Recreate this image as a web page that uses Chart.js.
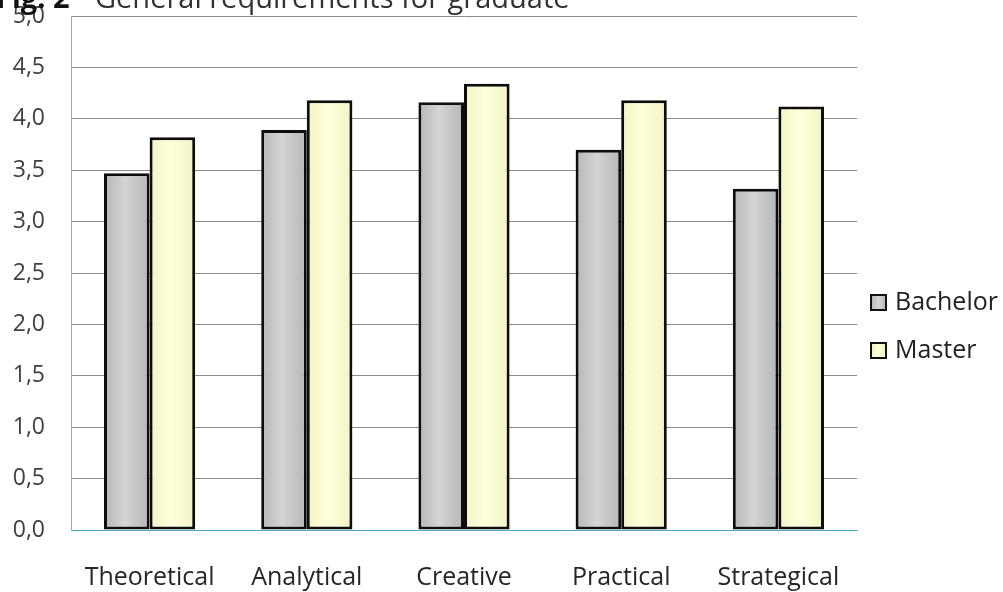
<!DOCTYPE html>
<html>
<head>
<meta charset="utf-8">
<script src="https://cdn.jsdelivr.net/npm/chart.js@4"></script>
<style>
  html, body { margin: 0; padding: 0; background: #fff; }
  #wrap { width: 1003px; height: 592px; position: relative; }
</style>
</head>
<body>
<div id="wrap"><canvas id="chartCanvas"></canvas></div>
<script>
const categories = ['Theoretical', 'Analytical', 'Creative', 'Practical', 'Strategical'];
const bachelorValues = [3.47, 3.89, 4.16, 3.70, 3.32];
const masterValues = [3.82, 4.18, 4.34, 4.18, 4.12];
const seriesNames = ['Bachelor', 'Master'];
const titleText = ['Fig. 2', 'General requirements for graduate'];

const FONT = "'Open Sans', 'DejaVu Sans', sans-serif";
const GROUP = 0.58;

// horizontal shading across each bar, lighter in the middle
function barFill(ctx, light, dark) {
    const chart = ctx.chart;
    const xs = chart.scales && chart.scales.x;
    if (!chart.chartArea || !xs || ctx.type !== 'data') return light;
    const half = xs.width / categories.length * GROUP / 2;
    const center = xs.getPixelForValue(ctx.dataIndex);
    const left = ctx.datasetIndex === 0 ? center - half : center;
    const g = chart.ctx.createLinearGradient(left, 0, left + half, 0);
    g.addColorStop(0, dark);
    g.addColorStop(0.45, light);
    g.addColorStop(1, dark);
    return g;
}

const fills = [
    { light: '#d4d4d4', dark: '#b6b6b6' },
    { light: '#ffffdc', dark: '#f3f3c4' }
];

// title sits mostly above the top edge of the canvas
const titlePlugin = {
    id: 'topTitle',
    afterDraw(chart) {
        const c = chart.ctx;
        c.save();
        c.textBaseline = 'alphabetic';
        c.fillStyle = '#111';
        c.font = 'bold 29px ' + FONT;
        c.fillText(titleText[0], -4, 8);
        c.fillStyle = '#333';
        c.font = '29px ' + FONT;
        c.fillText(titleText[1], 95, 8);
        c.restore();
    }
};

const legendPlugin = {
    id: 'sideLegend',
    afterDraw(chart) {
        const c = chart.ctx;
        c.save();
        chart.data.datasets.forEach((ds, i) => {
            const y = 302 + i * 48;
            const g = c.createLinearGradient(871, 0, 886, 0);
            g.addColorStop(0, fills[i].dark);
            g.addColorStop(0.5, fills[i].light);
            g.addColorStop(1, fills[i].dark);
            c.fillStyle = g;
            c.fillRect(871, y - 7, 15, 15);
            c.lineWidth = 2;
            c.strokeStyle = '#111';
            c.strokeRect(871, y - 7, 15, 15);
            c.fillStyle = '#222';
            c.font = '25px ' + FONT;
            c.textBaseline = 'middle';
            c.fillText(ds.label, 895, y + 1);
        });
        c.restore();
    }
};

const ctx = document.getElementById('chartCanvas').getContext('2d');
new Chart(ctx, {
    type: 'bar',
    data: {
        labels: categories,
        datasets: [bachelorValues, masterValues].map((vals, i) => ({
            label: seriesNames[i],
            data: vals,
            backgroundColor: c => barFill(c, fills[i].light, fills[i].dark),
            borderColor: '#0d0d0d',
            borderWidth: 3,
            borderSkipped: false,
            categoryPercentage: GROUP,
            barPercentage: 1.0
        }))
    },
    options: {
        responsive: true,
        maintainAspectRatio: false,
        animation: false,
        layout: { padding: { top: 16, right: 146, left: 0, bottom: 0 } },
        plugins: {
            legend: { display: false },
            tooltip: { enabled: false },
            title: { display: false }
        },
        scales: {
            x: {
                afterFit: s => { s.height = 62; s.paddingLeft = 0; s.paddingRight = 0; },
                grid: { display: false, drawTicks: false },
                border: { display: true, color: '#4bacc6', width: 1 },
                ticks: {
                    padding: 33,
                    color: '#262626',
                    font: { family: FONT, size: 25 }
                }
            },
            y: {
                min: 0,
                max: 5,
                afterFit: s => { s.width = 71; s.paddingTop = 0; s.paddingBottom = 0; },
                grid: {
                    drawTicks: false,
                    color: c => c.tick && c.tick.value === 0 ? '#4bacc6' : '#8c8c8c',
                    lineWidth: 1
                },
                border: { display: true, color: '#a6a6a6', width: 1 },
                ticks: {
                    stepSize: 0.5,
                    padding: 26,
                    color: '#404040',
                    font: { family: FONT, size: 23 },
                    callback: v => v.toFixed(1).replace('.', ',')
                }
            }
        }
    },
    plugins: [titlePlugin, legendPlugin]
});
</script>
</body>
</html>
